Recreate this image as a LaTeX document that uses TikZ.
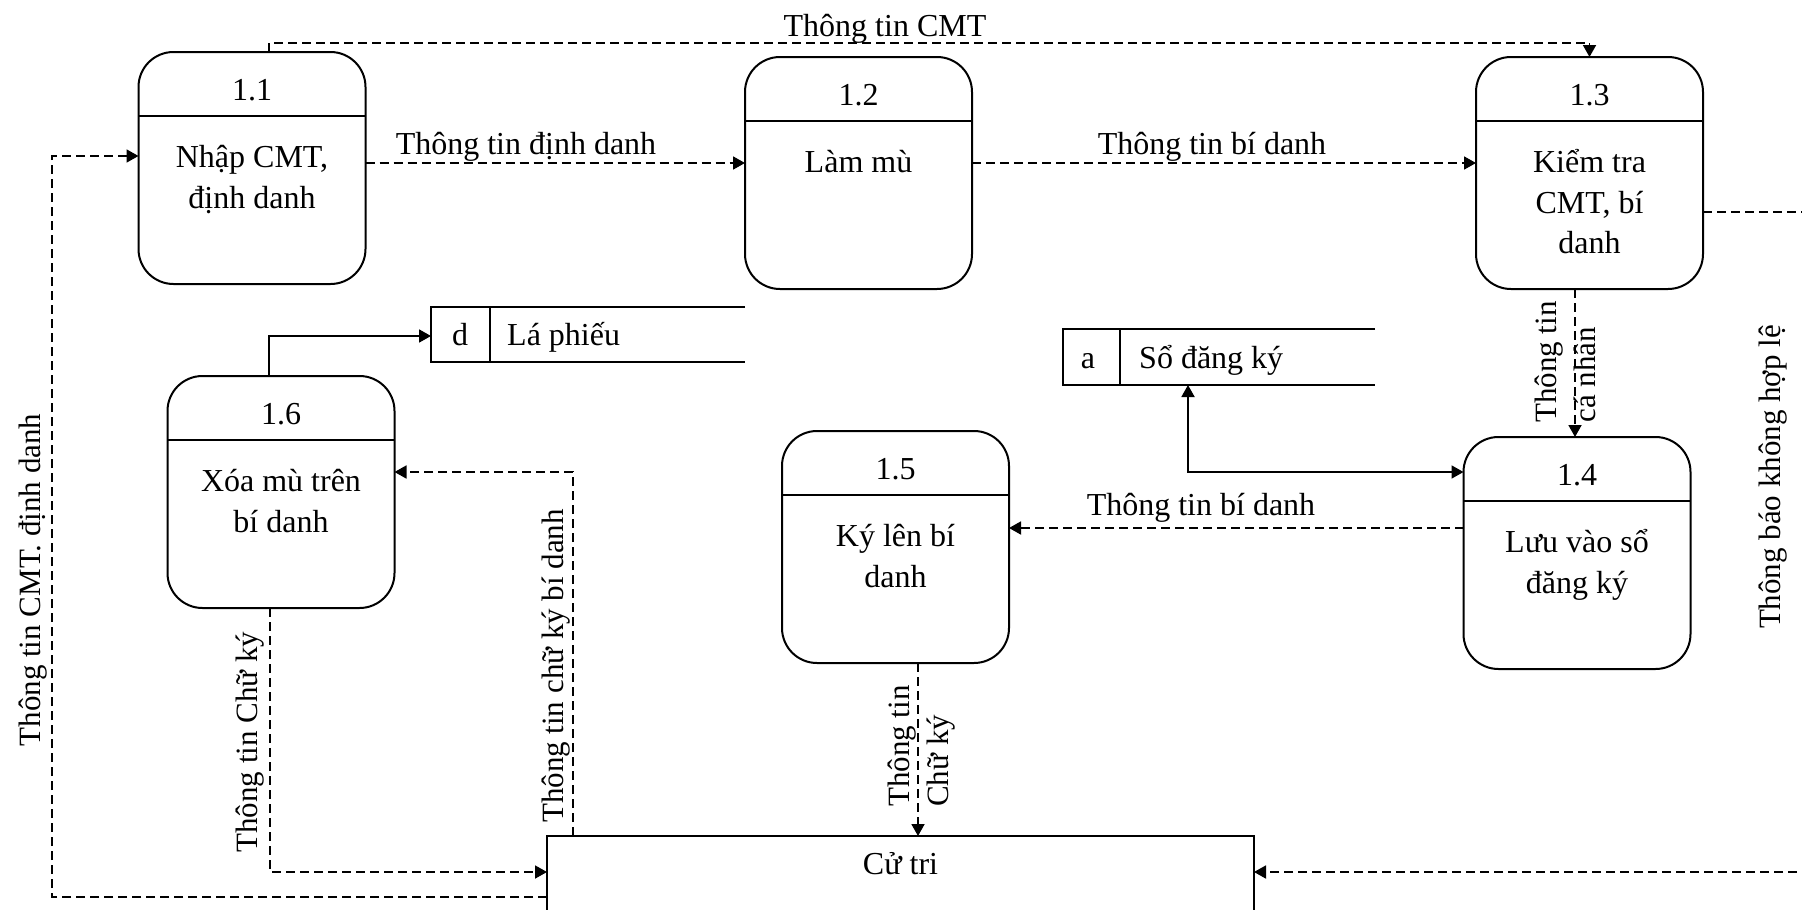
\documentclass[tikz,border=0pt]{standalone}
\usepackage{fontspec}
\setmainfont{Liberation Serif}
\usetikzlibrary{arrows.meta,calc}

% process box: name, x, y (centre), number, body text
\newcommand{\dfdproc}[5]{%
  \node[proc] (#1) at (#2,#3) {};
  \draw[line width=2pt] ($(#1.north west)+(0,64)$) -- ($(#1.north east)+(0,64)$);
  \node[ttl] (#1n) at ($(#1.north)+(0,38)$) {#4};
  \node[body] (#1t) at ($(#1.north)+(0,87)$) {\strut #5};
}

\begin{document}
\begin{tikzpicture}[x=1pt,y=-1pt,
  >={Triangle[length=12pt,width=13pt]},
  proc/.style={draw, line width=2pt, rounded corners=35pt, minimum width=227pt,
    minimum height=232pt, inner sep=0pt, outer sep=0pt},
  ttl/.style={font=\fontsize{32}{39}\selectfont, inner sep=0pt},
  body/.style={font=\fontsize{32}{40.5}\selectfont, align=center, inner sep=0pt, anchor=north},
  lbl/.style={font=\fontsize{32}{39}\selectfont, inner sep=0pt},
  vlbl/.style={font=\fontsize{31}{39}\selectfont, inner sep=0pt, rotate=90},
  store/.style={inner sep=0pt, outer sep=0pt, anchor=north west},
  dflow/.style={line width=1.8pt, dash pattern=on 9pt off 5pt, ->},
  sflow/.style={line width=1.8pt, ->},
]
\useasboundingbox (0,0) rectangle (1802,910);
\fill[white] (0,0) rectangle (1802,910);
\clip (0,0) rectangle (1802,910);

% processes
\dfdproc{p11}{252}{168}{1.1}{Nhập CMT,\\định danh}
\dfdproc{p12}{858.5}{173}{1.2}{Làm mù}
\dfdproc{p13}{1589.5}{173}{1.3}{Kiểm tra\\CMT, bí\\danh}
\dfdproc{p14}{1577}{553}{1.4}{Lưu vào sổ\\đăng ký}
\dfdproc{p15}{895.5}{547}{1.5}{Ký lên bí\\danh}
\dfdproc{p16}{281}{492}{1.6}{Xóa mù trên\\bí danh}

% data stores
\node[store, minimum width=314pt, minimum height=55pt] (sd) at (431,307) {};
\draw[line width=2pt] (sd.north east) -- (sd.north west) -- (sd.south west) -- (sd.south east);
\draw[line width=2pt] (490,307) -- (490,362);
\node[lbl, anchor=base] (sdk) at (460,345) {d};
\node[lbl, anchor=base west] (sdn) at (507,345) {Lá phiếu};

\node[store, minimum width=312pt, minimum height=56pt] (sa) at (1063,329) {};
\draw[line width=2pt] (sa.north east) -- (sa.north west) -- (sa.south west) -- (sa.south east);
\draw[line width=2pt] (1119.5,329) -- (1119.5,385);
\node[lbl, anchor=base] (sak) at (1088,368) {a};
\node[lbl, anchor=base west] (san) at (1139,368) {Sổ đăng ký};

% external entity
\node[draw, line width=2pt, store, minimum width=707pt, minimum height=150pt] (ct) at (547,836) {};
\node[lbl, anchor=base] (ctt) at (900.5,874) {Cử tri};

% bend points
\coordinate (a163) at (0,163);
\coordinate (r1) at (1840,212);
\coordinate (a872) at (0,872);
\coordinate (x1575) at (1575,0);
\coordinate (k6) at (1188,472);
\coordinate (a528) at (0,528);
\coordinate (x918) at (918,0);
\coordinate (k1) at (269,336);
\coordinate (k2) at (573,472);
\coordinate (k3) at (270,872);
\coordinate (k4) at (52,897);
\coordinate (k5) at (52,156);
\coordinate (k7) at (269,43);

% flows
\draw[dflow] (k7 |- p11.north) -- (k7) -| (p13.north);
\node[lbl, anchor=base] (l1) at (885,36) {Thông tin CMT};

\draw[dflow] (p11.east |- a163) -- (p12.west |- a163);
\node[lbl, anchor=base] (l2) at (526,154) {Thông tin định danh};

\draw[dflow] (p12.east |- a163) -- (p13.west |- a163);
\node[lbl, anchor=base] (l3) at (1212,154) {Thông tin bí danh};

\draw[dflow] (p13.east |- r1) -- (r1) |- (ct.east |- a872);
\node[vlbl] (l4) at (1773,477) {Thông báo không hợp lệ};

\draw[dflow] (x1575 |- p13.south) -- (x1575 |- p14.north);
\node[vlbl, align=left] (l5) at (1565,362) {Thông tin\\cá nhân};

\draw[sflow, <->] (k6 |- sa.south) |- (p14.west |- k6);

\draw[dflow] (p14.west |- a528) -- (p15.east |- a528);
\node[lbl, anchor=base] (l6) at (1201,515) {Thông tin bí danh};

\draw[dflow] (x918 |- p15.south) -- (x918 |- ct.north);
\node[vlbl, align=left] (l7) at (922,746) {Thông tin\\Chữ ký};

\draw[sflow] (k1 |- p16.north) |- (sd.west |- k1);

\draw[dflow] (k2 |- ct.north) |- (p16.east |- k2);
\node[vlbl] (l8) at (556,666) {Thông tin chữ ký bí danh};

\draw[dflow] (k3 |- p16.south) |- (ct.west |- k3);
\node[vlbl] (l9) at (250,742) {Thông tin Chữ ký};

\draw[dflow] (ct.west |- k4) -| (k5) -- (p11.west |- k5);
\node[vlbl] (l10) at (33,580) {Thông tin CMT. định danh};
\end{tikzpicture}
\end{document}
